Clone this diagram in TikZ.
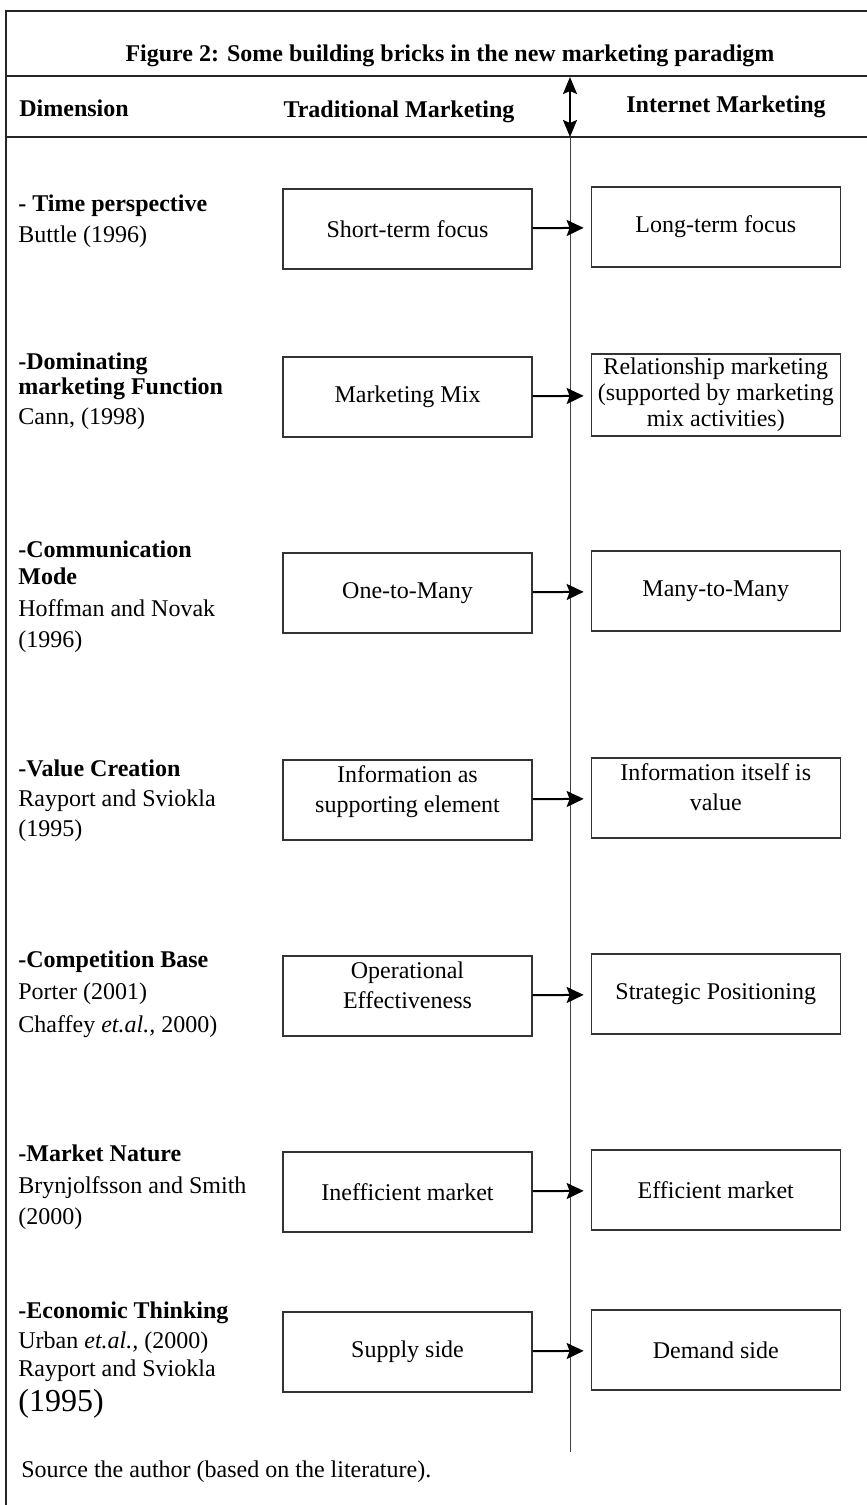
\documentclass[tikz,border=0pt]{standalone}
\usepackage{fontspec}
\setmainfont{Liberation Serif}
\usetikzlibrary{positioning}
\usetikzlibrary{arrows.meta}

\tikzset{
  box/.style={draw=black!80, line width=0.65pt, minimum width=124.5pt, minimum height=40pt,
    inner sep=2pt, align=center, font=\fontsize{12}{15}\selectfont},
  twoline/.style={text height=24pt, text depth=12pt},
  dim/.style={anchor=north west, align=left, inner sep=0pt, font=\fontsize{12}{15}\selectfont},
  head/.style={inner sep=0pt, font=\fontsize{12}{15}\selectfont\bfseries},
  conn/.style={line width=1pt, -{Stealth[length=8.5pt,width=8pt,inset=1.5pt]}, shorten >=3.5pt},
  frame/.style={line width=1.3pt, black!85},
  axis/.style={line width=0.5pt, black!75},
}

\begin{document}
\begin{tikzpicture}[x=0.5pt, y=-0.5pt]
    \useasboundingbox (0,0) rectangle (867,1505);

        % Frame and header
        \draw[frame] (6,1505) |- (867,11);
        \draw[frame] (6,76) -- (867,76);
        \draw[frame] (6,137) -- (867,137);
        \node[head]                 (title) at (450,56) {Figure 2: Some building bricks in the new marketing paradigm};
        \node[head, anchor=west]    (dimh)  at (19,108) {Dimension};
        \node[head]                 (trad)  at (399,112) {Traditional Marketing};
        \node[head]                 (inet)  at (726,107) {Internet Marketing};

        % Middle axis
        \coordinate (atop) at (570,77);
        \coordinate (amid) at (570,137);
        \coordinate (abot) at (570,1452);
        \draw[line width=1pt, {Stealth[length=8.5pt,width=7pt,inset=1.5pt]}-{Stealth[length=8.5pt,width=7pt,inset=1.5pt]}] (atop) -- (amid);
        \draw[axis] (amid) -- (abot);

        % Dimensions
        \node[dim] (d1) at (18,194) {\textbf{- Time perspective}\\[0.5pt] Buttle (1996)};
        \node[dim] (d2) at (18,352) {\textbf{-Dominating}\\[-2.5pt] \textbf{marketing Function}\\[0pt] Cann, (1998)};
        \node[dim] (d3) at (18,540) {\textbf{-Communication}\\[-1.5pt] \textbf{Mode}\\[1pt] Hoffman and Novak\\[0.5pt] (1996)};
        \node[dim] (d4) at (18,759) {\textbf{-Value Creation}\\ Rayport and Sviokla\\ (1995)};
        \node[dim] (d5) at (18,950) {\textbf{-Competition Base}\\[1pt] Porter (2001)\\[1.5pt] Chaffey \textit{et.al.,} 2000)};
        \node[dim] (d6) at (18,1144) {\textbf{-Market Nature}\\[1pt] Brynjolfsson and Smith\\[0.5pt] (2000)};
        \node[dim] (d7) at (18,1301) {\textbf{-Economic Thinking}\\ Urban \textit{et.al.,} (2000)\\[-1pt] Rayport and Sviokla\\[2.5pt] {\fontsize{16}{18}\selectfont (1995)}};
        \node[dim, anchor=west] (src) at (21,1472) {Source the author (based on the literature).};

        % Traditional marketing
        \node[box] (t1) at (407.5,229)  {Short-term focus};
        \node[box] (t2) at (407.5,397)  {Marketing Mix};
        \node[box] (t3) at (407.5,593)  {One-to-Many};
        \node[box, twoline] (t4) at (407.5,800)  {Information as\\ supporting element};
        \node[box, twoline] (t5) at (407.5,996)  {Operational\\ Effectiveness};
        \node[box] (t6) at (407.5,1192) {Inefficient market};
        \node[box] (t7) at (407.5,1352) {Supply side};

        % Internet marketing
        \node[box, right=29pt of t1, yshift=1pt] (i1) {Long-term focus};
        \node[box, right=29pt of t2, yshift=1pt, font=\fontsize{12}{13}\selectfont] (i2) {Relationship marketing\\ (supported by marketing\\ mix activities)};
        \node[box, right=29pt of t3, yshift=1pt] (i3) {Many-to-Many};
        \node[box, twoline, right=29pt of t4, yshift=1pt] (i4) {Information itself is\\ value};
        \node[box, right=29pt of t5, yshift=1pt] (i5) {Strategic Positioning};
        \node[box, right=29pt of t6, yshift=1pt] (i6) {Efficient market};
        \node[box, right=29pt of t7, yshift=1pt] (i7) {Demand side};

        % Connect the nodes
        \foreach \n in {1,...,7}
          \draw[conn] (t\n) -- (i\n);
\end{tikzpicture}
\end{document}
